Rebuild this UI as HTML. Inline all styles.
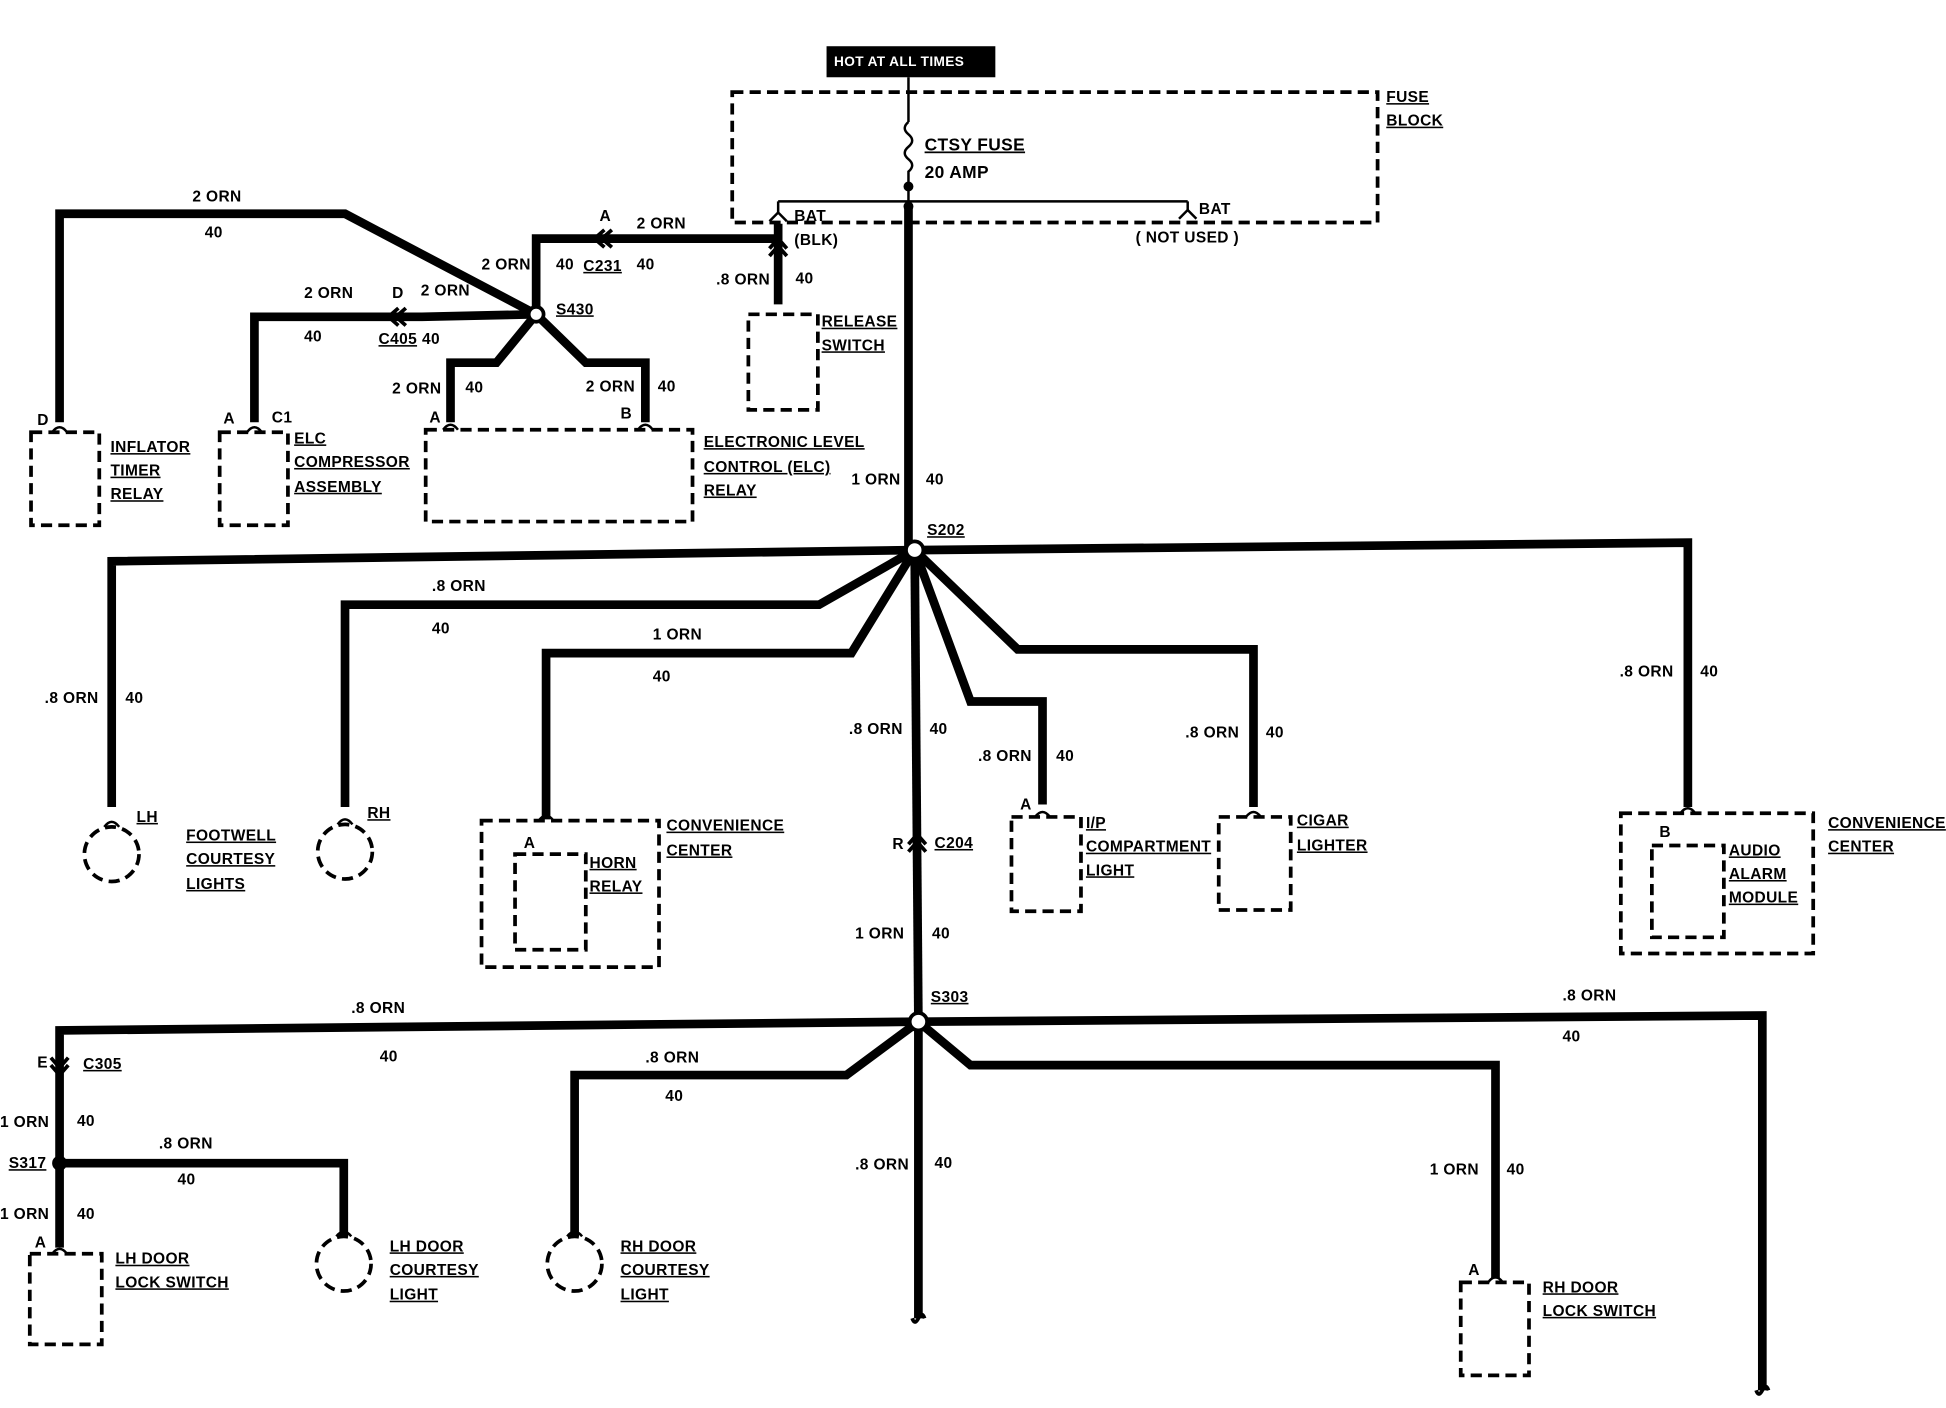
<!DOCTYPE html>
<html><head><style>
body{margin:0;background:#fff}
svg{display:block}
text{font-family:"Liberation Sans",sans-serif;font-size:12.5px;font-weight:bold;fill:#000;letter-spacing:0.3px}
.u{text-decoration:underline}
</style></head><body>
<svg width="1946" height="1408" viewBox="0 0 1568 1134" xmlns="http://www.w3.org/2000/svg">
<g fill="none" stroke="#000" stroke-width="3" stroke-dasharray="9 5">
<rect x="590" y="74" width="520" height="105"/>
<rect x="603" y="253" width="56" height="77"/>
<rect x="25" y="348" width="55" height="75"/>
<rect x="177" y="348" width="55" height="75"/>
<rect x="343" y="346" width="215" height="74"/>
<rect x="388" y="661" width="143" height="118"/>
<rect x="415" y="688" width="57" height="77"/>
<rect x="815" y="658" width="56" height="76"/>
<rect x="982" y="658" width="58" height="75"/>
<rect x="1306" y="655" width="155" height="113"/>
<rect x="1331" y="681" width="58" height="74"/>
<rect x="24" y="1010" width="58" height="73"/>
<rect x="1177" y="1033" width="55" height="75"/>
<circle cx="90" cy="688" r="22"/>
<circle cx="278" cy="686" r="22"/>
<circle cx="277" cy="1018" r="22"/>
<circle cx="463" cy="1018" r="22"/>
</g>
<g fill="none" stroke="#000" stroke-width="2">
<path d="M732 62V98 M732 98q-6 5 0 10q6 5 0 10q-6 5 0 10q6 5 0 10V166"/>
<path d="M627 162H957 M627 162V172 M957 162V170"/>
<path d="M620 178l7-7l7 7 M950 176l7-7l7 7"/>
<path d="M42 348q6-8 12 0 M199 348q6-8 12 0 M357 346q6-8 12 0 M514 346q6-8 12 0 M434 661q6-8 12 0 M834 658q6-8 12 0 M1004 658q6-8 12 0 M1354 655q6-8 12 0 M42 1010q6-8 12 0 M1199 1033q6-8 12 0 M84 666q6-8 12 0 M272 664q6-8 12 0 M271 996q6-8 12 0 M457 996q6-8 12 0"/>
</g>
<circle cx="732" cy="150" r="4"/><circle cx="732" cy="166" r="4"/>
<g fill="none" stroke="#000" stroke-width="7" stroke-linejoin="miter">
<path d="M732 166V441"/>
<path d="M627 180V192H432V253"/>
<path d="M627 192V245"/>
<path d="M432 253L278 172H48V340"/>
<path d="M432 253L340 255H205V340"/>
<path d="M432 253L400 292H363V340"/>
<path d="M432 253L472 292H520V340"/>
<path d="M737 443L90 452V650"/>
<path d="M737 443L660 487H278V650"/>
<path d="M737 443L686 526H440V660"/>
<path d="M737 443L740 823"/>
<path d="M737 443L782 565H840V648"/>
<path d="M737 443L820 523H1010V650"/>
<path d="M737 443L1360 437V650"/>
<path d="M740 823L48 830V1005"/>
<path d="M48 937H277V995"/>
<path d="M740 823L682 866H463V995"/>
<path d="M740 823V1062"/>
<path d="M740 823L782 858H1205V1030"/>
<path d="M740 823L1420 818V1120"/>
</g>
<g fill="none" stroke="#000" stroke-width="3">
<path d="M487 185l-8 7l8 7 M493 185l-8 7l8 7"/>
<path d="M321 248l-8 7l8 7 M327 248l-8 7l8 7"/>
<path d="M732 680l7-8l7 8 M732 686l7-8l7 8"/>
<path d="M41 852l7 8l7-8 M41 858l7 8l7-8"/>
<path d="M620 200l7-8l7 8 M620 206l7-8l7 8"/>
<path d="M735 1062q2 6 5 0q3-6 5 0 M1415 1120q2 6 5 0q3-6 5 0"/>
</g>
<g fill="#fff" stroke="#000" stroke-width="3">
<circle cx="432" cy="253" r="6"/><circle cx="737" cy="443" r="7"/><circle cx="740" cy="823" r="7"/>
</g>
<circle cx="48" cy="937" r="6"/>
<rect x="666" y="37" width="136" height="25" fill="#000"/>
<text x="672" y="53" style="fill:#fff;font-size:11px">HOT AT ALL TIMES</text>
<text x="1117" y="82" class="u">FUSE</text><text x="1117" y="101" class="u">BLOCK</text>
<text x="745" y="121" class="u" style="font-size:14px">CTSY FUSE</text>
<text x="745" y="143" style="font-size:14px">20 AMP</text>
<text x="640" y="178">BAT</text><text x="966" y="172">BAT</text>
<text x="640" y="197">(BLK)</text><text x="915" y="195">( NOT USED )</text>
<text x="155" y="162">2 ORN</text><text x="165" y="191">40</text>
<text x="483" y="178">A</text><text x="513" y="184">2 ORN</text>
<text x="388" y="217">2 ORN</text><text x="448" y="217">40</text>
<text x="470" y="218" class="u">C231</text><text x="513" y="217">40</text>
<text x="577" y="229">.8 ORN</text><text x="641" y="228">40</text>
<text x="448" y="253" class="u">S430</text>
<text x="245" y="240">2 ORN</text><text x="316" y="240">D</text><text x="339" y="238">2 ORN</text>
<text x="245" y="275">40</text><text x="305" y="277" class="u">C405</text><text x="340" y="277">40</text>
<text x="662" y="263" class="u">RELEASE</text><text x="662" y="282" class="u">SWITCH</text>
<text x="316" y="317">2 ORN</text><text x="375" y="316">40</text>
<text x="472" y="315">2 ORN</text><text x="530" y="315">40</text>
<text x="30" y="342">D</text><text x="180" y="341">A</text><text x="219" y="340">C1</text>
<text x="346" y="340">A</text><text x="500" y="337">B</text>
<text x="89" y="364" class="u">INFLATOR</text><text x="89" y="383" class="u">TIMER</text><text x="89" y="402" class="u">RELAY</text>
<text x="237" y="357" class="u">ELC</text><text x="237" y="376" class="u">COMPRESSOR</text><text x="237" y="396" class="u">ASSEMBLY</text>
<text x="567" y="360" class="u">ELECTRONIC LEVEL</text><text x="567" y="380" class="u">CONTROL (ELC)</text><text x="567" y="399" class="u">RELAY</text>
<text x="686" y="390">1 ORN</text><text x="746" y="390">40</text>
<text x="747" y="431" class="u">S202</text>
<text x="348" y="476">.8 ORN</text><text x="348" y="510">40</text>
<text x="526" y="515">1 ORN</text><text x="526" y="549">40</text>
<text x="1305" y="545">.8 ORN</text><text x="1370" y="545">40</text>
<text x="36" y="566">.8 ORN</text><text x="101" y="566">40</text>
<text x="684" y="591">.8 ORN</text><text x="749" y="591">40</text>
<text x="955" y="594">.8 ORN</text><text x="1020" y="594">40</text>
<text x="788" y="613">.8 ORN</text><text x="851" y="613">40</text>
<text x="822" y="652">A</text><text x="1337" y="674">B</text>
<text x="110" y="662" class="u">LH</text><text x="296" y="659" class="u">RH</text>
<text x="150" y="677" class="u">FOOTWELL</text><text x="150" y="696" class="u">COURTESY</text><text x="150" y="716" class="u">LIGHTS</text>
<text x="537" y="669" class="u">CONVENIENCE</text><text x="537" y="689" class="u">CENTER</text>
<text x="422" y="683">A</text>
<text x="475" y="699" class="u">HORN</text><text x="475" y="718" class="u">RELAY</text>
<text x="719" y="684">R</text><text x="753" y="683" class="u">C204</text>
<text x="875" y="667" class="u">I/P</text><text x="875" y="686" class="u">COMPARTMENT</text><text x="875" y="705" class="u">LIGHT</text>
<text x="1045" y="665" class="u">CIGAR</text><text x="1045" y="685" class="u">LIGHTER</text>
<text x="1473" y="667" class="u">CONVENIENCE</text><text x="1473" y="686" class="u">CENTER</text>
<text x="1393" y="689" class="u">AUDIO</text><text x="1393" y="708" class="u">ALARM</text><text x="1393" y="727" class="u">MODULE</text>
<text x="689" y="756">1 ORN</text><text x="751" y="756">40</text>
<text x="750" y="807" class="u">S303</text>
<text x="283" y="816">.8 ORN</text><text x="306" y="855">40</text>
<text x="1259" y="806">.8 ORN</text><text x="1259" y="839">40</text>
<text x="30" y="860">E</text><text x="67" y="861" class="u">C305</text>
<text x="520" y="856">.8 ORN</text><text x="536" y="887">40</text>
<text x="0" y="908">1 ORN</text><text x="62" y="907">40</text>
<text x="128" y="925">.8 ORN</text><text x="143" y="954">40</text>
<text x="7" y="941" class="u">S317</text>
<text x="689" y="942">.8 ORN</text><text x="753" y="941">40</text>
<text x="1152" y="946">1 ORN</text><text x="1214" y="946">40</text>
<text x="0" y="982">1 ORN</text><text x="62" y="982">40</text>
<text x="28" y="1005">A</text><text x="1183" y="1027">A</text>
<text x="93" y="1018" class="u">LH DOOR</text><text x="93" y="1037" class="u">LOCK SWITCH</text>
<text x="314" y="1008" class="u">LH DOOR</text><text x="314" y="1027" class="u">COURTESY</text><text x="314" y="1047" class="u">LIGHT</text>
<text x="500" y="1008" class="u">RH DOOR</text><text x="500" y="1027" class="u">COURTESY</text><text x="500" y="1047" class="u">LIGHT</text>
<text x="1243" y="1041" class="u">RH DOOR</text><text x="1243" y="1060" class="u">LOCK SWITCH</text>
</svg>
</body></html>
